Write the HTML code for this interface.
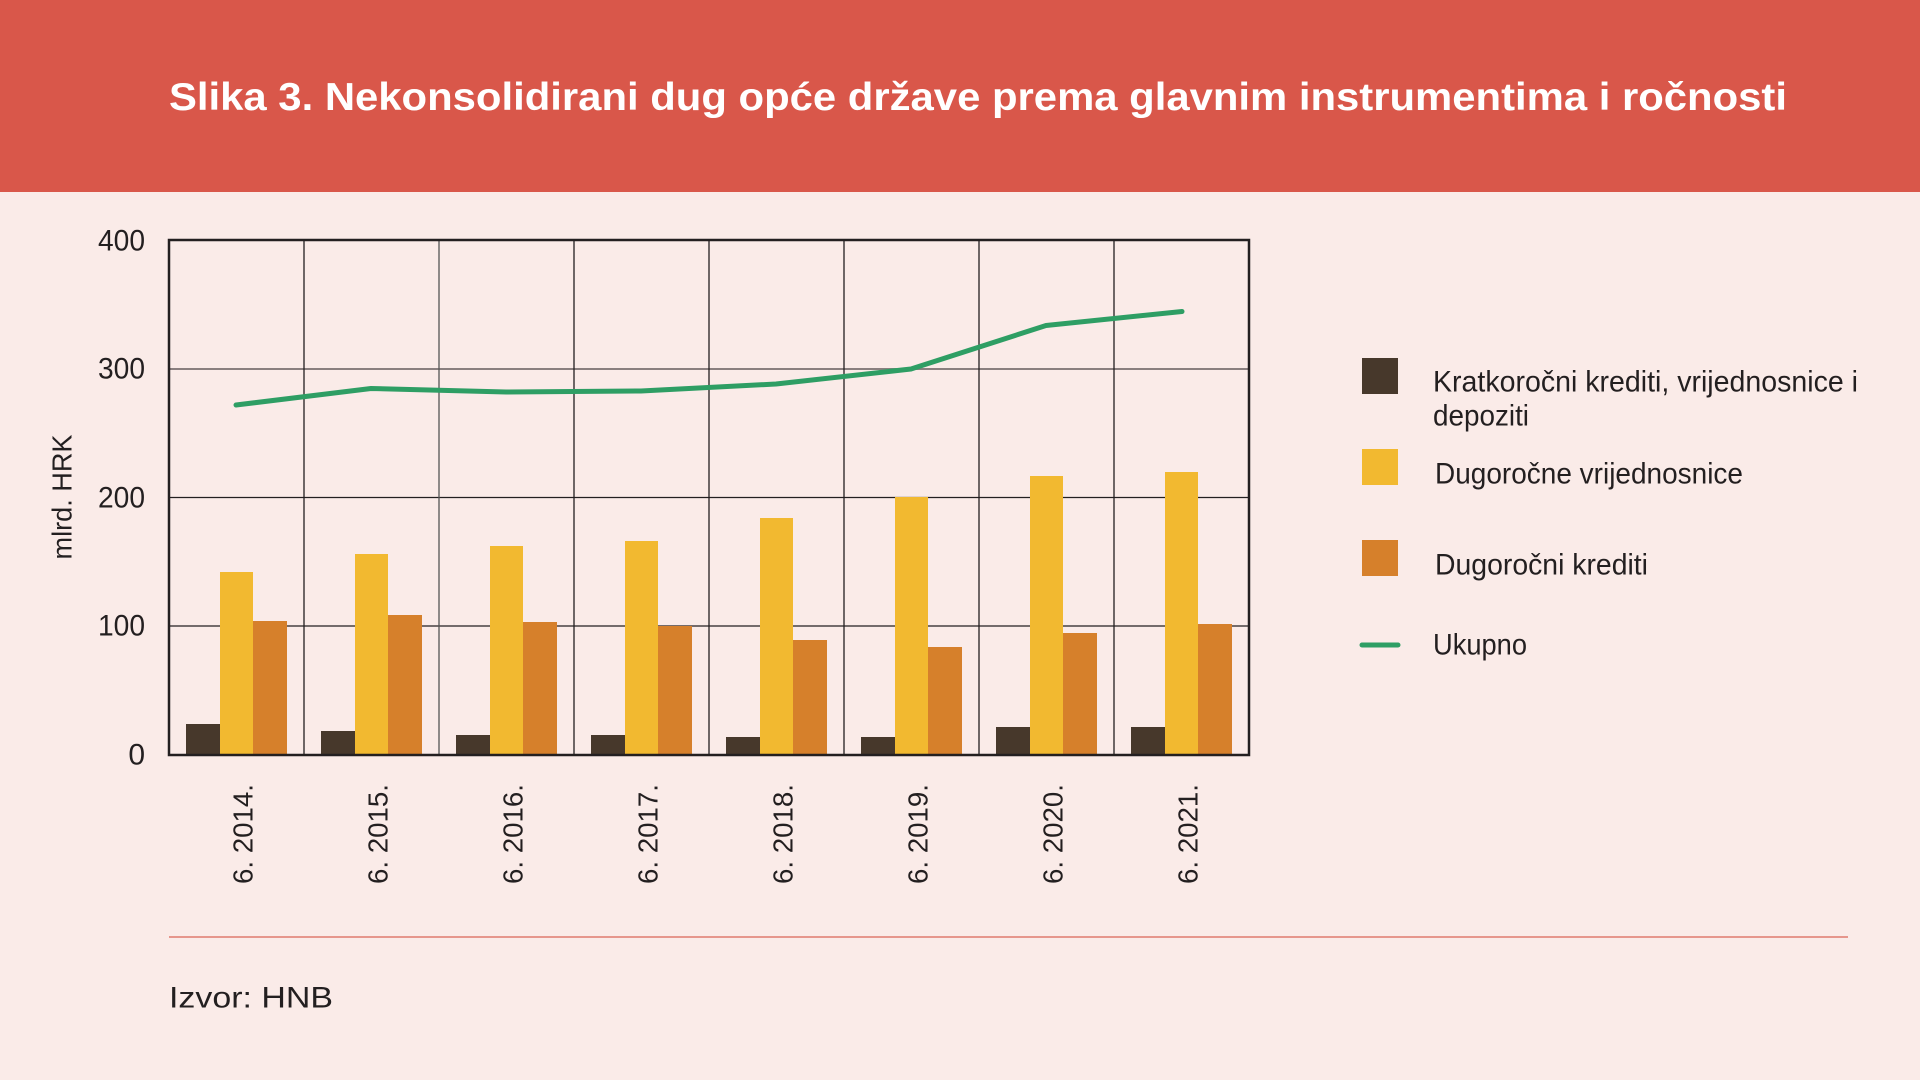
<!DOCTYPE html>
<html><head><meta charset="utf-8"><style>
html,body{margin:0;padding:0;background:#faebe8;}
svg{display:block}
</style></head><body>
<svg width="1920" height="1080" viewBox="0 0 1920 1080" xmlns="http://www.w3.org/2000/svg">
<rect x="0" y="0" width="1920" height="1080" fill="#faebe8"/>
<rect x="0" y="0" width="1920" height="192" fill="#d9574a"/>
<text x="169" y="110" font-family="'Liberation Sans',sans-serif" font-weight="bold" font-size="39" fill="#ffffff" textLength="1618" lengthAdjust="spacingAndGlyphs">Slika 3. Nekonsolidirani dug opće države prema glavnim instrumentima i ročnosti</text>

<g id="grid" stroke="#231f20" stroke-width="1.3">
<line x1="169" y1="626" x2="1249" y2="626"/>
<line x1="169" y1="497.5" x2="1249" y2="497.5"/>
<line x1="169" y1="369" x2="1249" y2="369" stroke="#8a7f7f" stroke-width="2"/>
<line x1="304" y1="240" x2="304" y2="755"/>
<line x1="439" y1="240" x2="439" y2="755" stroke="#555"/>
<line x1="574" y1="240" x2="574" y2="755"/>
<line x1="709" y1="240" x2="709" y2="755"/>
<line x1="844" y1="240" x2="844" y2="755"/>
<line x1="979" y1="240" x2="979" y2="755"/>
<line x1="1114" y1="240" x2="1114" y2="755"/>
</g>

<g id="bars">
<!-- values: dark, yellow, orange ; scale 1.2875 px/unit, base 755 -->
<g transform="translate(169,0)">
<rect x="17" y="724" width="34" height="31" fill="#47382b"/>
<rect x="51" y="572" width="33" height="183" fill="#f2b930"/>
<rect x="84" y="621" width="34" height="134" fill="#d6802b"/>
</g>
<g transform="translate(304,0)">
<rect x="17" y="731" width="34" height="24" fill="#47382b"/>
<rect x="51" y="554" width="33" height="201" fill="#f2b930"/>
<rect x="84" y="615" width="34" height="140" fill="#d6802b"/>
</g>
<g transform="translate(439,0)">
<rect x="17" y="735" width="34" height="20" fill="#47382b"/>
<rect x="51" y="546" width="33" height="209" fill="#f2b930"/>
<rect x="84" y="622" width="34" height="133" fill="#d6802b"/>
</g>
<g transform="translate(574,0)">
<rect x="17" y="735" width="34" height="20" fill="#47382b"/>
<rect x="51" y="541" width="33" height="214" fill="#f2b930"/>
<rect x="84" y="626" width="34" height="129" fill="#d6802b"/>
</g>
<g transform="translate(709,0)">
<rect x="17" y="737" width="34" height="18" fill="#47382b"/>
<rect x="51" y="518" width="33" height="237" fill="#f2b930"/>
<rect x="84" y="640" width="34" height="115" fill="#d6802b"/>
</g>
<g transform="translate(844,0)">
<rect x="17" y="737" width="34" height="18" fill="#47382b"/>
<rect x="51" y="497" width="33" height="258" fill="#f2b930"/>
<rect x="84" y="647" width="34" height="108" fill="#d6802b"/>
</g>
<g transform="translate(979,0)">
<rect x="17" y="727" width="34" height="28" fill="#47382b"/>
<rect x="51" y="476" width="33" height="279" fill="#f2b930"/>
<rect x="84" y="633" width="34" height="122" fill="#d6802b"/>
</g>
<g transform="translate(1114,0)">
<rect x="17" y="727" width="34" height="28" fill="#47382b"/>
<rect x="51" y="472" width="33" height="283" fill="#f2b930"/>
<rect x="84" y="624" width="34" height="131" fill="#d6802b"/>
</g>
</g>

<polyline fill="none" stroke="#2e9e64" stroke-width="5" stroke-linecap="round" stroke-linejoin="round"
 points="236,405 371,388.5 506,392 641,391 776,384 911,369 1046,325.5 1182,311.5"/>

<rect x="169" y="240" width="1080" height="515" fill="none" stroke="#231f20" stroke-width="2.5"/>

<g font-family="'Liberation Sans Narrow','Liberation Sans',sans-serif" font-size="30" fill="#231f20" text-anchor="end" dominant-baseline="central">
<text x="145" y="241" textLength="47" lengthAdjust="spacingAndGlyphs">400</text>
<text x="145" y="369" textLength="47" lengthAdjust="spacingAndGlyphs">300</text>
<text x="145" y="498" textLength="47" lengthAdjust="spacingAndGlyphs">200</text>
<text x="145" y="626" textLength="47" lengthAdjust="spacingAndGlyphs">100</text>
<text x="145" y="755">0</text>
</g>
<text transform="translate(62,497) rotate(-90)" text-anchor="middle" dominant-baseline="central" font-family="'Liberation Sans Narrow','Liberation Sans',sans-serif" font-size="28" fill="#231f20" textLength="125" lengthAdjust="spacingAndGlyphs">mlrd. HRK</text>

<g font-family="'Liberation Sans Narrow','Liberation Sans',sans-serif" font-size="28" fill="#231f20" text-anchor="end" dominant-baseline="central">
<text transform="translate(243,784) rotate(-90)" textLength="100" lengthAdjust="spacingAndGlyphs">6. 2014.</text>
<text transform="translate(378,784) rotate(-90)" textLength="100" lengthAdjust="spacingAndGlyphs">6. 2015.</text>
<text transform="translate(513,784) rotate(-90)" textLength="100" lengthAdjust="spacingAndGlyphs">6. 2016.</text>
<text transform="translate(648,784) rotate(-90)" textLength="100" lengthAdjust="spacingAndGlyphs">6. 2017.</text>
<text transform="translate(783,784) rotate(-90)" textLength="100" lengthAdjust="spacingAndGlyphs">6. 2018.</text>
<text transform="translate(918,784) rotate(-90)" textLength="100" lengthAdjust="spacingAndGlyphs">6. 2019.</text>
<text transform="translate(1053,784) rotate(-90)" textLength="100" lengthAdjust="spacingAndGlyphs">6. 2020.</text>
<text transform="translate(1188,784) rotate(-90)" textLength="100" lengthAdjust="spacingAndGlyphs">6. 2021.</text>
</g>

<rect x="1362" y="358" width="36" height="36" fill="#47382b"/>
<rect x="1362" y="449" width="36" height="36" fill="#f2b930"/>
<rect x="1362" y="540" width="36" height="36" fill="#d6802b"/>
<line x1="1362" y1="645" x2="1398" y2="645" stroke="#2e9e64" stroke-width="5" stroke-linecap="round"/>
<g font-family="'Liberation Sans Narrow','Liberation Sans',sans-serif" font-size="30" fill="#231f20" dominant-baseline="central">
<text x="1433" y="382" textLength="425" lengthAdjust="spacingAndGlyphs">Kratkoročni krediti, vrijednosnice i</text>
<text x="1433" y="416" textLength="96" lengthAdjust="spacingAndGlyphs">depoziti</text>
<text x="1435" y="474" textLength="308" lengthAdjust="spacingAndGlyphs">Dugoročne vrijednosnice</text>
<text x="1435" y="565" textLength="213" lengthAdjust="spacingAndGlyphs">Dugoročni krediti</text>
<text x="1433" y="645" textLength="94" lengthAdjust="spacingAndGlyphs">Ukupno</text>
</g>

<line x1="169" y1="937" x2="1848" y2="937" stroke="#e07a6d" stroke-width="1.5"/>
<text x="169" y="998" dominant-baseline="central" font-family="'Liberation Sans',sans-serif" font-size="30" fill="#231f20" textLength="164" lengthAdjust="spacingAndGlyphs">Izvor: HNB</text>
</svg>
</body></html>
